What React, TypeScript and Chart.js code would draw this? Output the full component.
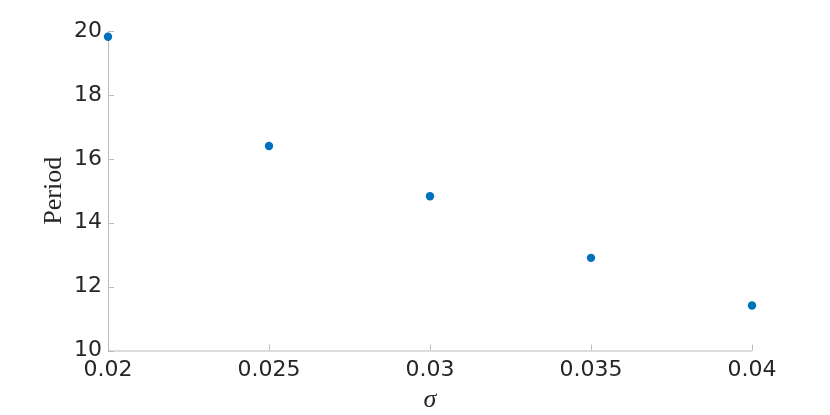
import React, { useEffect, useRef } from "react";
import { Chart, registerables } from "chart.js";

Chart.register(...registerables);

const sigmaValues: number[] = [0.02, 0.025, 0.03, 0.035, 0.04];
const periodValues: number[] = [19.82, 16.4, 14.83, 12.9, 11.41];
const xTicks: number[] = [0.02, 0.025, 0.03, 0.035, 0.04];
const yTicks: number[] = [10, 12, 14, 16, 18, 20];

const AXIS_COLOR = "#bcbcbc";
const TEXT_COLOR = "#262626";

const inwardTicks = {
  id: "inwardTicks",
  beforeDatasetsDraw(chart: any) {
    const { ctx, chartArea, scales } = chart;
    const len = 6;
    ctx.save();
    ctx.strokeStyle = AXIS_COLOR;
    ctx.lineWidth = 1;
    ctx.beginPath();
    ctx.moveTo(chartArea.left + 0.5, chartArea.top);
    ctx.lineTo(chartArea.left + 0.5, chartArea.bottom + 0.5);
    ctx.lineTo(chartArea.right, chartArea.bottom + 0.5);
    for (const v of xTicks) {
      const x = Math.round(scales.x.getPixelForValue(v)) + 0.5;
      ctx.moveTo(x, chartArea.bottom);
      ctx.lineTo(x, chartArea.bottom - len);
    }
    for (const v of yTicks) {
      const y = Math.round(scales.y.getPixelForValue(v)) + 0.5;
      ctx.moveTo(chartArea.left, y);
      ctx.lineTo(chartArea.left + len, y);
    }
    ctx.stroke();
    ctx.restore();
  },
};

export default function App() {
  const canvasRef = useRef<HTMLCanvasElement | null>(null);

  useEffect(() => {
    if (!canvasRef.current) return;
    const chart = new Chart(canvasRef.current, {
      type: "scatter",
      data: {
        datasets: [
          {
            data: sigmaValues.map((s, i) => ({ x: s, y: periodValues[i] })),
            backgroundColor: "#0072BD",
            borderColor: "#0072BD",
            pointRadius: 4.2,
            pointHoverRadius: 4.2,
            borderWidth: 0,
            clip: false,
          } as any,
        ],
      },
      options: {
        animation: false,
        responsive: false,
        maintainAspectRatio: false,
        layout: { padding: { left: 0, right: 78, top: 31, bottom: 0 } },
        plugins: {
          legend: { display: false },
          tooltip: { enabled: false },
        },
        scales: {
          x: {
            type: "linear",
            min: 0.02,
            max: 0.04,
            afterBuildTicks: (scale: any) => {
              scale.ticks = xTicks.map((v) => ({ value: v }));
            },
            afterFit: (scale: any) => {
              scale.height = 64.5;
            },
            grid: { display: false, drawTicks: false },
            border: { display: false },
            ticks: {
              color: TEXT_COLOR,
              font: { family: "DejaVu Sans", size: 22 },
              padding: 7,
              maxRotation: 0,
              autoSkip: false,
              callback: (v: any) => String(Number(v)),
            },
            title: {
              display: true,
              text: "σ",
              color: TEXT_COLOR,
              font: { family: "Liberation Serif", size: 26, style: "italic" },
              padding: { top: 0, bottom: -1 },
            },
          },
          y: {
            type: "linear",
            min: 10,
            max: 20,
            afterBuildTicks: (scale: any) => {
              scale.ticks = yTicks.map((v) => ({ value: v }));
            },
            afterFit: (scale: any) => {
              scale.width = 108;
            },
            grid: { display: false, drawTicks: false },
            border: { display: false },
            ticks: {
              color: TEXT_COLOR,
              font: { family: "DejaVu Sans", size: 22 },
              padding: 6,
              autoSkip: false,
              callback: (v: any) => String(v),
            },
            title: {
              display: true,
              text: "Period",
              color: TEXT_COLOR,
              font: { family: "Liberation Serif", size: 26 },
              padding: { top: 39, bottom: 0 },
            },
          },
        },
      },
      plugins: [inwardTicks],
    });
    return () => chart.destroy();
  }, []);

  return (
    <div style={{ position: "fixed", left: 0, top: 0, width: 830, height: 415, background: "#ffffff" }}>
      <canvas ref={canvasRef} width={830} height={415} style={{ width: 830, height: 415, display: "block" }} />
    </div>
  );
}
